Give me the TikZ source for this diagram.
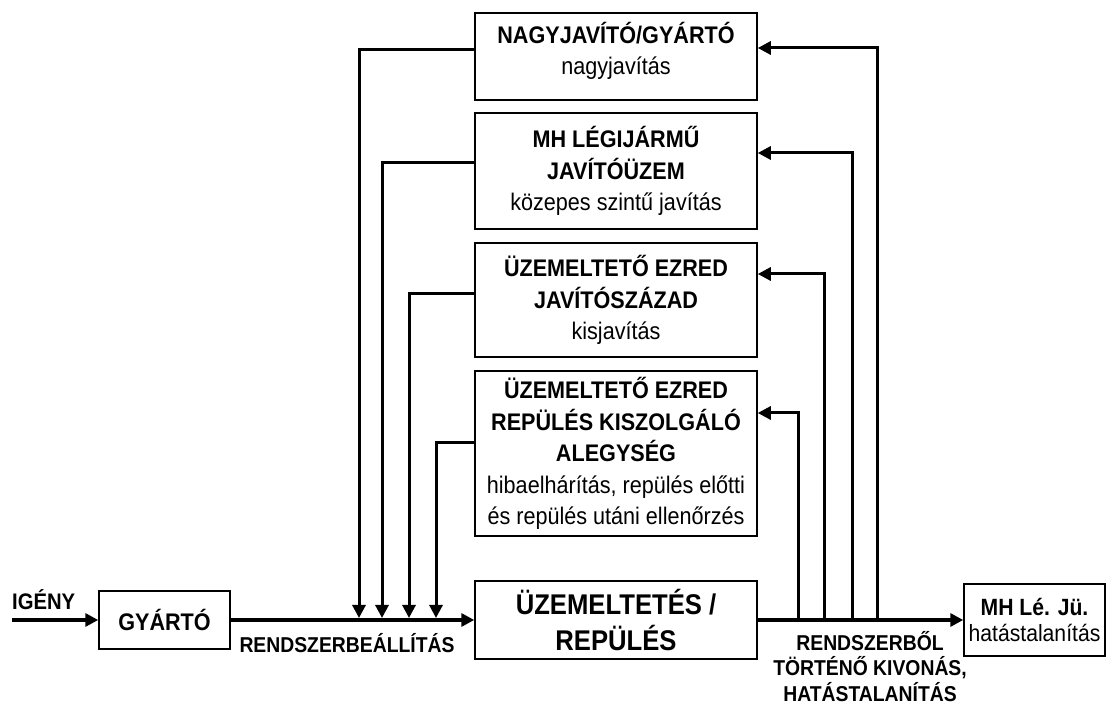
\documentclass[tikz,border=0pt]{standalone}
\usepackage{fontspec}
\setmainfont{Liberation Sans}[FakeStretch=0.9]
\usepackage{tikz}
\usetikzlibrary{arrows.meta, positioning}

\begin{document}
\begin{tikzpicture}[x=1pt, y=1pt, >={Triangle[length=13pt,width=13pt]},
  box/.style={draw, line width=1.5pt, align=center, inner sep=2pt,
    minimum width=282pt, font=\fontsize{24}{31.5}\selectfont},
  feed/.style={line width=3pt},
  mainline/.style={line width=4pt},
  lbl/.style={font=\bfseries\fontsize{21.5}{25.5}\selectfont, align=center,
    inner sep=0pt}]
  \useasboundingbox (0,0) rectangle (1107,706);
  % javitasi szintek
  \node[box, minimum height=87pt] (nagy) at (616,649.5)
    {\textbf{NAGYJAVÍTÓ/GYÁRTÓ}\\nagyjavítás\rule[-16pt]{0pt}{0pt}};
  \node[box, minimum height=116pt] (kozep) at (616,535)
    {\textbf{MH LÉGIJÁRMŰ}\\\textbf{JAVÍTÓÜZEM}\\közepes szintű javítás};
  \node[box, minimum height=114pt] (kis) at (616,406)
    {\textbf{ÜZEMELTETŐ EZRED}\\\textbf{JAVÍTÓSZÁZAD}\\kisjavítás};
  \node[box, minimum height=165pt] (kiszolg) at (616,252.5)
    {\textbf{ÜZEMELTETŐ EZRED}\\\textbf{REPÜLÉS KISZOLGÁLÓ}\\\textbf{ALEGYSÉG}\\
     hibaelhárítás, repülés előtti\\és repülés utáni ellenőrzés};
  % fo folyamat
  \node[box, minimum height=78pt, font=\bfseries\fontsize{28.5}{35.5}\selectfont]
    (uzem) at (616,86) {ÜZEMELTETÉS /\\REPÜLÉS};
  \node[box, minimum width=131pt, minimum height=58pt,
    font=\bfseries\fontsize{24}{26}\selectfont] (gyarto) at (164.5,86) {GYÁRTÓ};
  \node[box, minimum width=141pt, minimum height=72pt, inner sep=1pt,
    font=\fontsize{23.5}{26}\selectfont] (mhle) at (1034.5,86)
    {\textbf{MH Lé. Jü.}\\hatástalanítás};
  % feliratok
  \node[lbl, font=\bfseries\fontsize{22.5}{26}\selectfont, anchor=base west]
    (igeny) at (12,96) {IGÉNY};
  \node[lbl] (beall) at (347,63) {RENDSZERBEÁLLÍTÁS};
  \node[lbl, anchor=north] (kivon) at (870,75)
    {RENDSZERBŐL\\TÖRTÉNŐ KIVONÁS,\\HATÁSTALANÍTÁS};
  % csatlakozasi pontok a fovonalon
  \coordinate (start) at (12,86);
  \foreach \n/\x in {1/359,2/382,3/409,4/436}
    \coordinate (be\n) at (\x,88);
  \foreach \n/\x in {1/877,2/852,3/824,4/798}
    \coordinate (ki\n) at (\x,86);
  \draw[mainline,->] (start) -- (gyarto);
  \draw[mainline,->] (gyarto) -- (uzem);
  \draw[mainline,->] (uzem) -- (mhle);
  \foreach \b/\n/\d in {nagy/1/6.5,kozep/2/8,kis/3/6,kiszolg/4/10.5}
    \draw[feed,->] ([yshift=\d pt]\b.west) -| (be\n);
  \foreach \b/\n/\d in {nagy/1/8.5,kozep/2/18,kis/3/26,kiszolg/4/40.5}
    \draw[feed,->] (ki\n) |- ([yshift=\d pt]\b.east);
\end{tikzpicture}
\end{document}
